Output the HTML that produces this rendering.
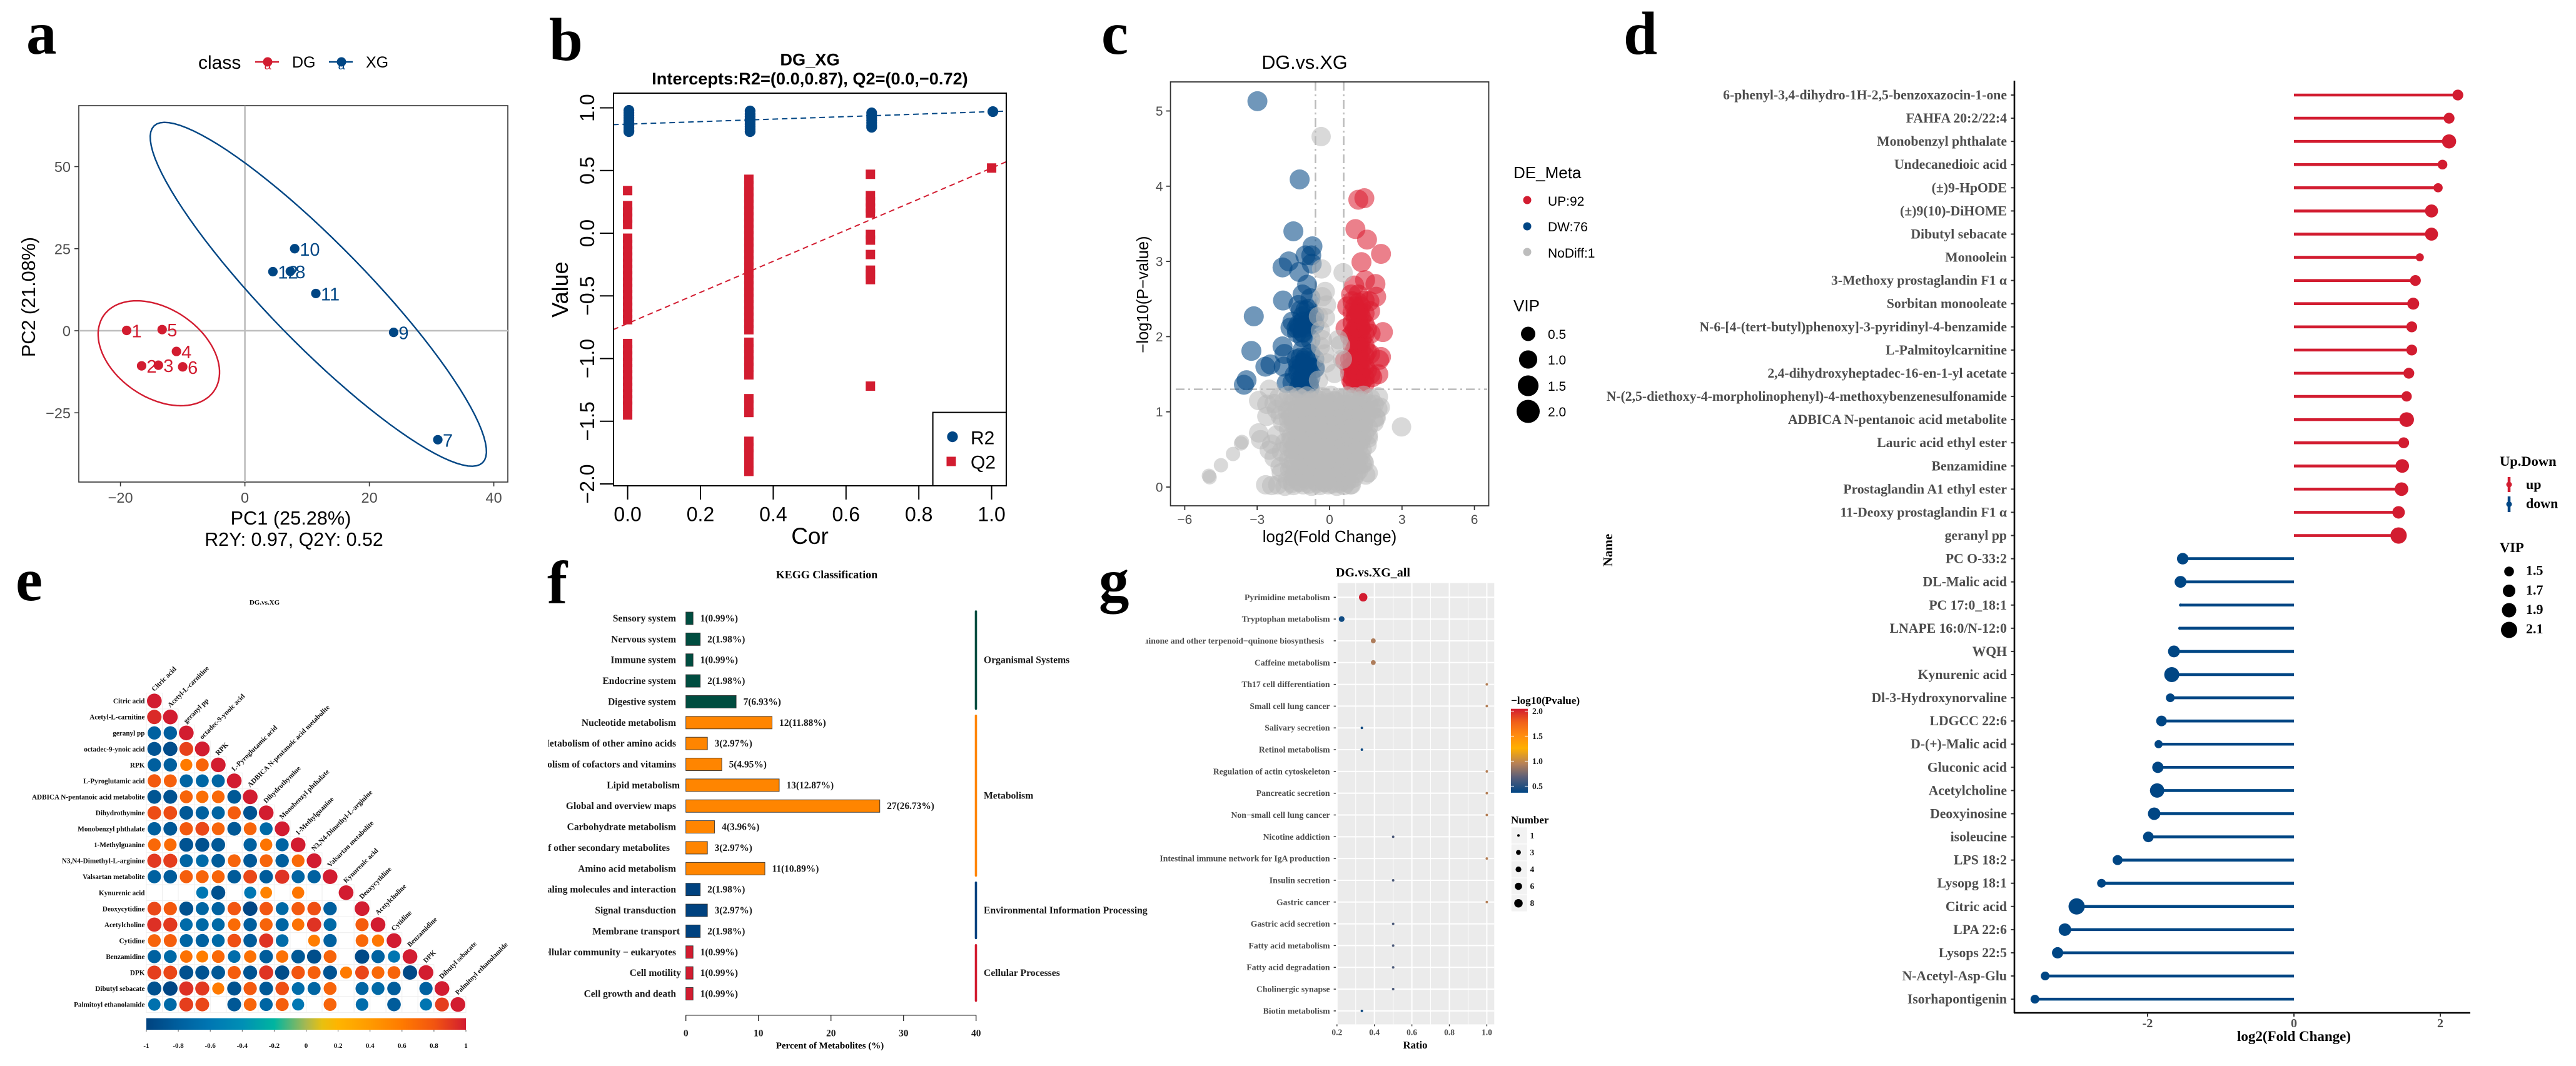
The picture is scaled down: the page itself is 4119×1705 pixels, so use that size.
<!DOCTYPE html>
<html lang="en">
<head>
<meta charset="utf-8">
<title>Metabolomics multi-panel figure</title>
<style>
html,body{margin:0;padding:0;background:#fff;}
svg{display:block;}
text{font-family:"Liberation Sans",sans-serif;}
.b,.b text{font-family:"Liberation Serif",serif;font-weight:bold;}
.letter{font-family:"Liberation Serif",serif;font-weight:bold;font-size:97px;fill:#000;}
</style>
</head>
<body>
<svg id="fig" xmlns="http://www.w3.org/2000/svg" width="4119" height="1705" viewBox="0 0 4119 1705">
<defs>
<clipPath id="clip-b"><rect x="981" y="149" width="628" height="628"/></clipPath>
<clipPath id="clip-f"><rect x="876" y="960" width="300" height="660"/></clipPath>
<clipPath id="clip-g"><rect x="1831.6" y="930" width="310" height="710"/></clipPath>
<linearGradient id="grad-e" x1="0" x2="1" y1="0" y2="0"></linearGradient>
<linearGradient id="grad-g" x1="0" x2="0" y1="1" y2="0"></linearGradient>
</defs>
<rect width="4119" height="1705" fill="#fff"/>

<!-- panel letters -->
<text class="letter" x="42" y="86">a</text>
<text class="letter" x="878" y="96">b</text>
<text class="letter" x="1761" y="86">c</text>
<text class="letter" x="2596" y="86">d</text>
<text class="letter" x="25" y="960">e</text>
<text class="letter" x="875" y="965">f</text>
<text class="letter" x="1757" y="961">g</text>

<!-- PANEL A -->
<g id="panel-a">
  <g>
    <text x="317" y="110" font-size="30">class</text>
    <g>
      <line x1="408" x2="446" y1="99" y2="99" stroke="#d21c30" stroke-width="2.5"/>
      <circle cx="428" cy="99" r="7.5" fill="#d21c30"/>
      <text x="428" y="111" font-size="20" text-anchor="middle" fill="#d21c30">a</text>
      <text x="467" y="108" font-size="25">DG</text>
    </g>
    <g>
      <line x1="526" x2="564" y1="99" y2="99" stroke="#004684" stroke-width="2.5"/>
      <circle cx="546" cy="99" r="7.5" fill="#004684"/>
      <text x="546" y="111" font-size="20" text-anchor="middle" fill="#004684">a</text>
      <text x="585" y="108" font-size="25">XG</text>
    </g>
  </g>
  <text x="465" y="839" font-size="30.7" text-anchor="middle">PC1 (25.28%)</text>
  <text x="470" y="873" font-size="30.4" text-anchor="middle">R2Y: 0.97, Q2Y: 0.52</text>
  <text x="56" y="475" font-size="30.6" text-anchor="middle" transform="rotate(-90 56 475)">PC2 (21.08%)</text>
</g>

<!-- PANEL B -->
<g id="panel-b">
  <text x="1295" y="104.5" font-size="27.2" font-weight="bold" text-anchor="middle">DG_XG</text>
  <text x="1295" y="135" font-size="27.2" font-weight="bold" text-anchor="middle">Intercepts:R2=(0.0,0.87), Q2=(0.0,−0.72)</text>
  <text x="1295" y="870" font-size="37" text-anchor="middle">Cor</text>
  <text x="908" y="463" font-size="36" text-anchor="middle" transform="rotate(-90 908 463)">Value</text>
</g>

<!-- PANEL C -->
<g id="panel-c">
  <text x="2086" y="110" font-size="30.5" text-anchor="middle">DG.vs.XG</text>
  <text x="2126" y="867" font-size="25.9" text-anchor="middle">log2(Fold Change)</text>
  <text x="1836" y="471" font-size="25.5" text-anchor="middle" transform="rotate(-90 1836 471)">−log10(P−value)</text>
  <g>
    <text x="2420" y="285" font-size="26">DE_Meta</text>
    <g><circle cx="2442" cy="320" r="6.5" fill="#d21c30"/><text x="2475" y="329" font-size="21">UP:92</text></g>
    <g><circle cx="2442" cy="362" r="6.5" fill="#004684"/><text x="2475" y="370" font-size="21">DW:76</text></g>
    <g><circle cx="2442" cy="403" r="6.5" fill="#bdbdbd"/><text x="2475" y="412" font-size="21">NoDiff:1</text></g>
  </g>
  <g>
    <text x="2420" y="498" font-size="26">VIP</text>
    <g><circle cx="2443.5" cy="534" r="11.5"/><text x="2475" y="542" font-size="21">0.5</text></g>
    <g><circle cx="2443.5" cy="575" r="14.6"/><text x="2475" y="583" font-size="21">1.0</text></g>
    <g><circle cx="2443.5" cy="617" r="16.6"/><text x="2475" y="625" font-size="21">1.5</text></g>
    <g><circle cx="2443.5" cy="658" r="18.5"/><text x="2475" y="666" font-size="21">2.0</text></g>
  </g>
</g>

<!-- PANEL D -->
<g id="panel-d" class="b">
  <text x="2578" y="880" font-size="21" text-anchor="middle" transform="rotate(-90 2578 880)">Name</text>
  <text x="3668" y="1665" font-size="23" text-anchor="middle">log2(Fold Change)</text>
  <g>
    <text x="3997" y="745" font-size="22.5">Up.Down</text>
    <g><line x1="4012" x2="4012" y1="763" y2="787" stroke="#d21c30" stroke-width="4.5"/><circle cx="4012" cy="775" r="4.5" fill="#d21c30"/><text x="4039" y="782" font-size="22">up</text></g>
    <g><line x1="4012" x2="4012" y1="794" y2="819" stroke="#004684" stroke-width="4.5"/><circle cx="4012" cy="806.5" r="4.5" fill="#004684"/><text x="4039" y="812.5" font-size="22">down</text></g>
  </g>
  <g>
    <text x="3997" y="883" font-size="22.5">VIP</text>
    <g><circle cx="4012" cy="914" r="7.8"/><text x="4039" y="919.5" font-size="22">1.5</text></g>
    <g><circle cx="4012" cy="945" r="10"/><text x="4039" y="951" font-size="22">1.7</text></g>
    <g><circle cx="4012" cy="976" r="11.5"/><text x="4039" y="982" font-size="22">1.9</text></g>
    <g><circle cx="4012" cy="1007.5" r="13"/><text x="4039" y="1013" font-size="22">2.1</text></g>
  </g>
</g>

<!-- PANEL E -->
<g id="panel-e" class="b">
  <text x="423" y="967" font-size="11" text-anchor="middle">DG.vs.XG</text>
  <rect x="234" y="1628.5" width="511" height="18.5" fill="url(#grad-e)"/>
</g>

<!-- PANEL F -->
<g id="panel-f" class="b">
  <text x="1322" y="925" font-size="18" text-anchor="middle">KEGG Classification</text>
  <text x="1327" y="1677" font-size="15" text-anchor="middle">Percent of Metabolites (%)</text>
</g>

<!-- PANEL G -->
<g id="panel-g" class="b">
  <text x="2136" y="922" font-size="20">DG.vs.XG_all</text>
  <rect x="2137.8" y="932.6" width="251.5" height="705.8" fill="#ebebeb"/>
  <text x="2263" y="1677" font-size="16.7" text-anchor="middle">Ratio</text>
  <text x="2416" y="1126" font-size="17.2">−log10(Pvalue)</text>
  <rect x="2416" y="1133.7" width="27" height="134.2" fill="url(#grad-g)"/>
  <text x="2416" y="1317" font-size="17">Number</text>
</g>

<script>
/* ---------- shared colours ---------- */
const RED = '#d21c30';
const BLUE = '#004684';
const NS = 'http://www.w3.org/2000/svg';

function mk(tag, parent, attrs) {
  const n = document.createElementNS(NS, tag);
  for (const k in attrs) n.setAttribute(k, attrs[k]);
  parent.appendChild(n);
  return n;
}
function label(parent, name, s, x, y, size, anchor, fill, rot) {
  const n = mk('text', parent, {x: x, y: y, 'font-size': size, 'text-anchor': anchor || 'start', fill: fill || '#000'});
  if (rot) n.setAttribute('transform', 'rotate(' + rot + ' ' + x + ' ' + y + ')');
  n.textContent = s;
  
  
  return n;
}
function stroke(parent, name, x1, y1, x2, y2, color, w, dash) {
  const n = mk('line', parent, {x1: x1, y1: y1, x2: x2, y2: y2, stroke: color, 'stroke-width': w});
  if (dash) n.setAttribute('stroke-dasharray', dash);
  
  
  return n;
}
function lerpColor(stopsV, stopsC, v) {
  if (v <= stopsV[0]) return stopsC[0];
  for (let i = 1; i < stopsV.length; i++) {
    if (v <= stopsV[i]) {
      const t = (v - stopsV[i - 1]) / (stopsV[i] - stopsV[i - 1]);
      const a = stopsC[i - 1], b = stopsC[i];
      const ch = o => Math.round(parseInt(a.substr(o, 2), 16) * (1 - t) + parseInt(b.substr(o, 2), 16) * t);
      return 'rgb(' + ch(1) + ',' + ch(3) + ',' + ch(5) + ')';
    }
  }
  return stopsC[stopsC.length - 1];
}
const minus = v => String(v).replace('-', '−');

/* ---------- PANEL A data ---------- */
const aXTicks = [-20, 0, 20, 40];
const aYTicks = [50, 25, 0, -25];
const dgLabels = ['1', '2', '3', '4', '5', '6'];
const dgPC1 = [-19, -16.6, -13.9, -11, -13.3, -10];
const dgPC2 = [0.1, -10.7, -10.5, -6.3, 0.35, -11];
const xgLabels = ['7', '8', '9', '10', '11', '12'];
const xgPC1 = [31, 7.3, 23.9, 8, 11.4, 4.5];
const xgPC2 = [-33.2, 18.1, -0.5, 25, 11.35, 18];
const ellipseDG = [-13.83, -6.86, 8.9, -11.4, 4.0, 11.2];
const ellipseXG = [11.8, 11.1, 26.4, -51.3, 5.75, 10.6];

/* ---------- PANEL B data ---------- */
const bXTicks = [0, 0.2, 0.4, 0.6, 0.8, 1];
const bYTicks = [1, 0.5, 0, -0.5, -1, -1.5, -2];
const corLevels = [0, 0.333, 0.667, 1];
const r2At0 = [0.98, 0.96, 0.94, 0.92, 0.9, 0.88, 0.86, 0.84, 0.82, 0.81];
const r2At33 = [0.975, 0.95, 0.93, 0.91, 0.89, 0.87, 0.85, 0.83, 0.81];
const r2At67 = [0.96, 0.94, 0.92, 0.9, 0.88, 0.86, 0.845];
const r2At100 = [0.97];
const q2At0 = [0.34, 0.22, 0.17, 0.12, 0.07, -0.04, -0.09, -0.14, -0.19, -0.24, -0.29, -0.34, -0.39, -0.44, -0.49, -0.54, -0.59, -0.64, -0.69, -0.88, -0.93, -0.98, -1.03, -1.08, -1.13, -1.18, -1.23, -1.28, -1.33, -1.38, -1.45];
const q2At33 = [0.43, 0.38, 0.33, 0.28, 0.23, 0.18, 0.13, 0.08, 0.03, -0.02, -0.07, -0.12, -0.17, -0.22, -0.27, -0.32, -0.37, -0.42, -0.47, -0.52, -0.57, -0.62, -0.67, -0.72, -0.77, -0.87, -0.92, -0.97, -1.02, -1.07, -1.13, -1.32, -1.37, -1.43, -1.66, -1.71, -1.76, -1.83, -1.9];
const q2At67 = [0.47, 0.3, 0.25, 0.2, 0.16, -0.01, -0.055, -0.17, -0.295, -0.33, -0.37, -1.22];
const q2At100 = [0.52];
const r2Intercept = 0.87;
const r2Slope = 0.1;
const q2Intercept = -0.72;
const q2Slope = 1.24;

/* ---------- PANEL C data ---------- */
const cXTicks = [-6, -3, 0, 3, 6];
const cYTicks = [5, 4, 3, 2, 1, 0];
const thresholdP = 1.3;
const thresholdFC = [-0.585, 0.585];
const downX = [-2.99, -1.24, -1.5, -0.71, -1, -0.76, -1.69, -0.74, -1.95, -1.26, -0.93, -1.93, -3.14, -3.24, -3.44, -3.55, -2.45, -2.66, -1.95, -1.87, -1.9, -1.78,
  -1.12, -0.79, -1.29, -0.88, -1.12, -0.63, -1.54, -1.29, -0.96, -1.62, -1.37, -1.12, -0.71, -0.63,
  -1.12, -0.79, -1.37, -1.04, -0.63, -1.29, -0.96, -0.63, -1.45, -1.12, -0.79, -0.6, -1.54, -1.21, -0.88, -1.29, -0.83, -1.12, -0.79,
  -1.2, -1, -1.1, -0.9, -1.25, -1.05, -1.35, -1.1, -1.2, -1, -1.15, -0.95, -1.3, -1.05, -1.2, -0.95, -1.1, -0.85, -1.3, -1, -1.15, -0.85];
const downY = [5.13, 4.09, 3.4, 3.2, 3.08, 3.08, 3, 2.97, 2.92, 2.86, 2.69, 2.48, 2.27, 1.81, 1.42, 1.36, 1.63, 1.6, 1.87, 1.77, 1.6, 1.38,
  2.56, 2.51, 2.42, 2.37, 2.27, 2.27, 2.2, 2.16, 2.16, 2.12, 2.11, 2.06, 2.23, 2.16,
  1.82, 1.77, 1.7, 1.68, 1.7, 1.58, 1.56, 1.58, 1.49, 1.46, 1.46, 1.58, 1.39, 1.37, 1.37, 1.31, 1.31, 1.99, 1.96,
  2.35, 2.35, 2.2, 2.2, 2.12, 2.12, 2.05, 2.05, 1.72, 1.72, 1.6, 1.6, 1.52, 1.52, 1.44, 1.44, 1.38, 1.38, 1.62, 1.5, 1.65, 1.6];
const upX = [1.44, 1.19, 1.07, 1.55, 2.13, 1.32, 1.47, 1.9, 1.02, 1.93, 0.89, 1.19, 0.73, 1.65, 2.21, 0.66, 2.13, 2.05, 0.64, 2.02, 0.83, 0.89, 1.77, 1.27,
  0.95, 1.2, 1.45, 0.95, 1.2, 1.45, 1.68, 0.95, 1.2, 1.45, 0.95, 1.2, 1.45, 1.7, 0.95, 1.2, 1.45, 0.95, 1.2, 1.45, 1.68, 0.95, 1.2, 1.45, 0.95, 1.2, 1.45, 1.7, 0.95, 1.2, 1.45,
  1.05, 1.3, 1.08, 1.32, 1.05, 1.3, 1.07, 1.33, 1.05, 1.3, 1.08, 1.32, 1.05, 1.3, 1.07, 1.33, 1.1, 1.25, 1.12, 1.28, 1.1, 1.25, 1.12, 1.28, 1.1, 1.25, 0.85, 0.85, 0.85, 1.55, 1.55, 1.55];
const upY = [3.84, 3.82, 3.43, 3.29, 3.1, 2.99, 2.75, 2.7, 2.68, 2.53, 2.56, 2.56, 2.4, 2.47, 2.06, 2.11, 1.73, 1.69, 1.68, 1.5, 1.58, 1.42, 1.46, 1.33,
  2.47, 2.45, 2.48, 2.32, 2.33, 2.31, 2.34, 2.18, 2.19, 2.17, 2.04, 2.05, 2.03, 2.04, 1.89, 1.9, 1.88, 1.75, 1.76, 1.74, 1.77, 1.61, 1.62, 1.6, 1.46, 1.47, 1.45, 1.5, 1.38, 1.36, 1.37,
  2.4, 2.4, 2.25, 2.25, 2.1, 2.1, 1.97, 1.97, 1.82, 1.82, 1.68, 1.68, 1.54, 1.54, 1.4, 1.4, 2.3, 2.3, 2.12, 2.12, 1.9, 1.9, 1.7, 1.7, 1.5, 1.5, 2, 1.7, 1.5, 2.1, 1.8, 1.55];
const grayX = [
  -2.1, -1.7, -1.3, -0.95, -0.6, -0.3, 0.05, 0.4, 0.75, 1.05, 1.4, 1.7,
  -2.3, -1.9, -1.5, -1.1, -0.75, -0.4, -0.05, 0.25, 0.6, 0.95, 1.25, 1.6, 1.85,
  -2.2, -1.75, -1.35, -1, -0.65, -0.3, 0.1, 0.45, 0.8, 1.15, 1.5, 1.75, 2,
  -2.05, -1.6, -1.2, -0.85, -0.5, -0.15, 0.2, 0.55, 0.9, 1.2, 1.55, 1.9,
  -1.95, -1.5, -1.1, -0.7, -0.35, 0, 0.35, 0.7, 1.05, 1.4, 1.85,
  -1.7, -1.3, -0.9, -0.55, -0.2, 0.15, 0.5, 0.85, 1.2, 1.6,
  -2.2, -1.6, -1.2, -0.8, -0.4, -0.05, 0.3, 0.65, 1, 1.35, 1.6,
  -2.4, -1.85, -1.45, -1.05, -0.65, -0.3, 0.05, 0.4, 0.75, 1.1, 1.55,
  -2.5, -2, -1.55, -1.15, -0.75, -0.35, 0, 0.35, 0.7, 1.05, 1.35,
  -2.3, -1.7, -1.3, -0.9, -0.5, -0.15, 0.2, 0.55, 0.9, 1.2,
  -2.05, -1.6, -1.2, -0.85, -0.45, -0.1, 0.25, 0.6, 0.95, 1.35,
  -2, -1.45, -1.05, -0.7, -0.35, 0, 0.35, 0.7, 1.1, 1.5,
  -1.75, -1.3, -0.9, -0.55, -0.2, 0.15, 0.5, 0.85,
  -2.65, -2.4, -2.15, -1.85, -1.5, -1.1, -0.75, -0.4, -0.05, 0.3, 0.6, 0.9,
  -5, -4.97, -4.5, -4, -3.67, -3.63, -2.94, -2.86, -2.94, -2.6, -2.6, -2.5, 2.98, -0.35, 0.56, -0.33,
  -0.18, -0.3, -0.13, -0.46, -0.17, -0.38, -0.3, -0.38, -0.2, -0.13, -0.46, 0.45, 0.36, 0.2, 0.53, 2.02, 2.1, 1.93, 1.6, 1.44, 1.6, 0.86,
  -1.55, -1.15, -0.8, -0.45, -0.15, 0.2, 0.55, 0.9, 1.3,
  -1.6, -1.2, -0.85, -0.5, -0.1, 0.25, 0.6, 1, 1.35,
  -1.7, -1.3, -0.9, -0.5, -0.15, 0.2, 0.55, 0.9, 1.25,
  -1.5, -1.1, -0.75, -0.4, -0.05, 0.3, 0.65, 1, 1.4,
  -1.4, -1, -0.6, -0.25, 0.1, 0.45, 0.8, 1.15, 1.45,
  -1.6, -1.25, -0.85, -0.5, -0.15, 0.2, 0.55, 0.9, 1.3,
  -1.7, -1.3, -0.9, -0.5, -0.15, 0.2, 0.55, 0.9, 1.2,
  -1.5, -1.1, -0.7, -0.35, 0, 0.35, 0.7, 1.05, 1.3,
  -1.5, -1.1, -0.7, -0.3, 0.05, 0.4, 0.75, 1.1, 1.4,
  -1.65, -1.3, -0.9, -0.55, -0.2, 0.15, 0.5, 0.85, 1.2,
  -1.5, -1.1, -0.75, -0.4, -0.05, 0.3, 0.65, 1,
  -1.55, -1.2, -0.85, -0.5, -0.2, 0.1, 0.4, 0.7];
const grayY = [
  1.19, 1.22, 1.2, 1.21, 1.18, 1.2, 1.22, 1.19, 1.21, 1.2, 1.22, 1.18,
  1.11, 1.13, 1.12, 1.1, 1.13, 1.11, 1.12, 1.14, 1.1, 1.12, 1.13, 1.11, 1.1,
  1.03, 1.01, 1.04, 1.02, 1.05, 1.03, 1.01, 1.04, 1.02, 1.05, 1.03, 1.02, 1.04,
  0.95, 0.93, 0.96, 0.94, 0.97, 0.95, 0.93, 0.96, 0.94, 0.97, 0.95, 0.93,
  0.86, 0.88, 0.85, 0.87, 0.84, 0.86, 0.88, 0.85, 0.87, 0.84, 0.86,
  0.77, 0.75, 0.78, 0.76, 0.79, 0.77, 0.75, 0.78, 0.76, 0.79,
  0.69, 0.67, 0.7, 0.68, 0.66, 0.69, 0.67, 0.7, 0.68, 0.66, 0.69,
  0.57, 0.59, 0.56, 0.6, 0.58, 0.56, 0.59, 0.57, 0.6, 0.58, 0.56,
  0.49, 0.47, 0.5, 0.48, 0.46, 0.49, 0.47, 0.5, 0.48, 0.46, 0.49,
  0.39, 0.37, 0.4, 0.38, 0.36, 0.39, 0.37, 0.4, 0.38, 0.36,
  0.27, 0.29, 0.26, 0.28, 0.3, 0.27, 0.29, 0.26, 0.28, 0.3,
  0.19, 0.17, 0.2, 0.18, 0.16, 0.19, 0.17, 0.2, 0.18, 0.16,
  0.09, 0.07, 0.1, 0.08, 0.06, 0.09, 0.07, 0.1,
  0.03, 0.02, 0.03, 0.01, 0.02, 0.03, 0.01, 0.02, 0.03, 0.01, 0.02, 0.03,
  0.15, 0.13, 0.29, 0.44, 0.58, 0.6, 0.72, 0.63, 1.15, 1.1, 0.94, 1.3, 0.8, 4.66, 2.85, 2.9,
  2.6, 2.53, 2.42, 2.27, 2.25, 2.08, 1.96, 1.87, 1.77, 1.65, 1.42, 1.89, 1.96, 1.51, 1.7, 1.2, 1.06, 0.92, 0.65, 0.32, 0.19, 0.03,
  1.16, 1.17, 1.15, 1.16, 1.17, 1.15, 1.17, 1.16, 1.15,
  1, 0.99, 1.01, 1, 0.99, 1.01, 1, 0.99, 1.01,
  0.9, 0.91, 0.89, 0.9, 0.91, 0.89, 0.9, 0.91, 0.89,
  0.82, 0.81, 0.83, 0.82, 0.81, 0.83, 0.82, 0.81, 0.83,
  0.72, 0.73, 0.71, 0.72, 0.73, 0.71, 0.72, 0.73, 0.71,
  0.62, 0.63, 0.61, 0.62, 0.63, 0.61, 0.62, 0.63, 0.61,
  0.53, 0.52, 0.54, 0.53, 0.52, 0.54, 0.53, 0.52, 0.54,
  0.43, 0.44, 0.42, 0.43, 0.44, 0.42, 0.43, 0.44, 0.42,
  0.33, 0.32, 0.34, 0.33, 0.32, 0.34, 0.33, 0.32, 0.34,
  0.23, 0.24, 0.22, 0.23, 0.24, 0.22, 0.23, 0.24, 0.22,
  0.13, 0.12, 0.14, 0.13, 0.12, 0.14, 0.13, 0.12,
  0.05, 0.06, 0.04, 0.05, 0.06, 0.04, 0.05, 0.06];

/* ---------- PANEL D data ---------- */
const dXTicks = [-2, 0, 2];
const metaboliteNames = ['6-phenyl-3,4-dihydro-1H-2,5-benzoxazocin-1-one', 'FAHFA 20:2/22:4', 'Monobenzyl phthalate', 'Undecanedioic acid', '(±)9-HpODE', '(±)9(10)-DiHOME', 'Dibutyl sebacate', 'Monoolein', '3-Methoxy prostaglandin F1 α', 'Sorbitan monooleate', 'N-6-[4-(tert-butyl)phenoxy]-3-pyridinyl-4-benzamide', 'L-Palmitoylcarnitine', '2,4-dihydroxyheptadec-16-en-1-yl acetate', 'N-(2,5-diethoxy-4-morpholinophenyl)-4-methoxybenzenesulfonamide', 'ADBICA N-pentanoic acid metabolite', 'Lauric acid ethyl ester', 'Benzamidine', 'Prostaglandin A1 ethyl ester', '11-Deoxy prostaglandin F1 α', 'geranyl pp', 'PC O-33:2', 'DL-Malic acid', 'PC 17:0_18:1', 'LNAPE 16:0/N-12:0', 'WQH', 'Kynurenic acid', 'Dl-3-Hydroxynorvaline', 'LDGCC 22:6', 'D-(+)-Malic acid', 'Gluconic acid', 'Acetylcholine', 'Deoxyinosine', 'isoleucine', 'LPS 18:2', 'Lysopg 18:1', 'Citric acid', 'LPA 22:6', 'Lysops 22:5', 'N-Acetyl-Asp-Glu', 'Isorhapontigenin'];
const foldChange = [2.24, 2.12, 2.12, 2.03, 1.97, 1.88, 1.88, 1.72, 1.66, 1.63, 1.61, 1.61, 1.57, 1.54, 1.54, 1.5, 1.48, 1.47, 1.43, 1.43, -1.52, -1.55, -1.55, -1.56, -1.64, -1.67, -1.69, -1.81, -1.85, -1.86, -1.87, -1.91, -1.99, -2.41, -2.63, -2.97, -3.13, -3.23, -3.4, -3.54];
const vipScores = [1.6, 1.6, 1.9, 1.5, 1.45, 1.8, 1.8, 1.35, 1.6, 1.7, 1.6, 1.6, 1.6, 1.55, 1.95, 1.6, 1.85, 1.85, 1.75, 2.1, 1.66, 1.69, 0.9, 0.9, 1.69, 1.98, 1.41, 1.58, 1.35, 1.64, 1.92, 1.75, 1.58, 1.52, 1.41, 2.09, 1.75, 1.64, 1.41, 1.41];

/* ---------- PANEL E data ---------- */
const corrNames = ['Citric acid', 'Acetyl-L-carnitine', 'geranyl pp', 'octadec-9-ynoic acid', 'RPK', 'L-Pyroglutamic acid', 'ADBICA N-pentanoic acid metabolite', 'Dihydrothymine', 'Monobenzyl phthalate', '1-Methylguanine', 'N3,N4-Dimethyl-L-arginine', 'Valsartan metabolite', 'Kynurenic acid', 'Deoxycytidine', 'Acetylcholine', 'Cytidine', 'Benzamidine', 'DPK', 'Dibutyl sebacate', 'Palmitoyl ethanolamide'];
const corrMatrix = [
  [1],
  [.95, 1],
  [-.78, -.8, 1],
  [-.88, -.93, .87, 1],
  [-.8, -.8, .6, .72, 1],
  [.78, .74, -.75, -.73, -.75, 1],
  [-.87, -.88, .72, .66, .7, -.85, 1],
  [.83, .83, -.85, -.78, -.76, .76, -.88, 1],
  [-.8, -.85, .78, .85, .72, -.85, .72, -.72, 1],
  [.7, .68, -.88, -.9, -.85, null, -.78, .63, -.75, 1],
  [.9, .88, -.75, -.7, -.83, .72, -.84, .72, -.8, .7, 1],
  [-.78, -.82, .75, .72, .72, -.83, .85, -.82, .92, -.75, -.78, 1],
  [null, null, null, -.6, -.9, null, -.6, .55, null, .62, null, null, 1],
  [.85, .78, -.9, -.75, -.78, .8, -.97, .8, -.72, .78, .82, -.8, null, 1],
  [.93, .9, -.7, -.72, -.72, .68, -.8, .72, -.75, .65, .92, -.72, null, .76, 1],
  [.72, .75, -.75, -.78, -.72, .82, -.82, .92, -.7, null, .58, -.78, null, .7, .62, 1],
  [-.78, -.72, .65, .58, .7, -.68, .65, -.82, .65, -.85, -.92, .72, null, -.95, -.78, -.62, 1],
  [.88, .85, -.9, -.88, -.85, .76, -.88, .92, -.93, .8, .74, -.88, .6, .85, .7, .72, -.95, 1],
  [-.9, -.97, .93, .9, .6, -.9, .78, -.85, .82, -.7, -.75, .72, null, -.75, -.72, -.82, null, -.78, 1],
  [-.65, -.72, .88, .85, null, -.85, .72, -.75, .75, -.6, null, .72, null, -.68, null, -.82, null, -.62, .88, 1]
];
const corrTicks = [-1, -0.8, -0.6, -0.4, -0.2, 0, 0.2, 0.4, 0.6, 0.8, 1];
const corrStopV = [-1, -.8, -.6, -.4, -.2, 0, .1, .2, .4, .6, .8, 1];
const corrStopC = ['#00427f', '#005f9e', '#0077b3', '#008fb5', '#00b5a0', '#a8b850', '#e8c010', '#ffb400', '#ff9a00', '#ff7a00', '#f25510', '#d21c30'];

/* ---------- PANEL F data ---------- */
const keggNames = ['Sensory system', 'Nervous system', 'Immune system', 'Endocrine system', 'Digestive system', 'Nucleotide metabolism', 'Metabolism of other amino acids', 'Metabolism of cofactors and vitamins', 'Lipid metabolism', 'Global and overview maps', 'Carbohydrate metabolism', 'Biosynthesis of other secondary metabolites', 'Amino acid metabolism', 'Signaling molecules and interaction', 'Signal transduction', 'Membrane transport', 'Cellular community − eukaryotes', 'Cell motility', 'Cell growth and death'];
const keggCounts = [1, 2, 1, 2, 7, 12, 3, 5, 13, 27, 4, 3, 11, 2, 3, 2, 1, 1, 1];
const keggPercents = [0.99, 1.98, 0.99, 1.98, 6.93, 11.88, 2.97, 4.95, 12.87, 26.73, 3.96, 2.97, 10.89, 1.98, 2.97, 1.98, 0.99, 0.99, 0.99];
const keggGroupOf = [0, 0, 0, 0, 0, 1, 1, 1, 1, 1, 1, 1, 1, 2, 2, 2, 3, 3, 3];
const keggGroupNames = ['Organismal Systems', 'Metabolism', 'Environmental Information Processing', 'Cellular Processes'];
const keggGroupColors = ['#004d40', '#ff8500', '#00427f', '#d21c30'];
const fXTicks = [0, 10, 20, 30, 40];

/* ---------- PANEL G data ---------- */
const pathwayNames = ['Pyrimidine metabolism', 'Tryptophan metabolism', 'Ubiquinone and other terpenoid−quinone biosynthesis', 'Caffeine metabolism', 'Th17 cell differentiation', 'Small cell lung cancer', 'Salivary secretion', 'Retinol metabolism', 'Regulation of actin cytoskeleton', 'Pancreatic secretion', 'Non−small cell lung cancer', 'Nicotine addiction', 'Intestinal immune network for IgA production', 'Insulin secretion', 'Gastric cancer', 'Gastric acid secretion', 'Fatty acid metabolism', 'Fatty acid degradation', 'Cholinergic synapse', 'Biotin metabolism'];
const pathwayRatio = [0.34, 0.225, 0.394, 0.394, 1, 1, 0.333, 0.333, 1, 1, 1, 0.5, 1, 0.5, 1, 0.5, 0.5, 0.5, 0.5, 0.333];
const pathwayNumber = [8, 4, 3, 3, 1, 1, 1, 1, 1, 1, 1, 1, 1, 1, 1, 1, 1, 1, 1, 1];
const pathwayLogP = [2.02, 0.45, 0.93, 0.93, 0.95, 0.95, 0.45, 0.45, 0.95, 0.95, 0.95, 0.65, 0.95, 0.65, 0.95, 0.65, 0.65, 0.65, 0.65, 0.45];
const gXTicks = [0.2, 0.4, 0.6, 0.8, 1];
const gMinorTicks = [0.3, 0.5, 0.7, 0.9];
const gLegendP = [2, 1.5, 1, 0.5];
const gLegendN = [1, 3, 4, 6, 8];
const gStopV = [0.4, 0.7, 0.95, 1.25, 1.5, 1.75, 2];
const gStopC = ['#004684', '#5c5f78', '#b58058', '#ffb000', '#ff8a10', '#f0601a', '#d21c30'];

/* ================= PANEL A ================= */
(function () {
  const g = document.getElementById('panel-a');
  const L = 126, R = 812, T = 169, B = 771;
  const sx = v => 391.6 + 9.95 * v;
  const sy = v => 529 - 5.25 * v;
  const frame = mk('rect', g, {x: L, y: T, width: R - L, height: B - T, fill: 'none', stroke: '#333', 'stroke-width': 1.6});
  
  
  stroke(g, 'zero-line-vertical', sx(0), T, sx(0), B, '#bdbdbd', 2.6);
  stroke(g, 'zero-line-horizontal', L, sy(0), R, sy(0), '#bdbdbd', 2.6);
  aXTicks.forEach(v => {
    stroke(g, 'x-tick-mark', sx(v), B, sx(v), B + 7, '#333', 1.6);
    label(g, 'x-tick-label', minus(v), sx(v), 804, 23.5, 'middle', '#4d4d4d');
  });
  aYTicks.forEach(v => {
    stroke(g, 'y-tick-mark', L - 7, sy(v), L, sy(v), '#333', 1.6);
    label(g, 'y-tick-label', minus(v), 113, sy(v) + 8.5, 23.5, 'end', '#4d4d4d');
  });
  function ellipse(e, color, name) {
    let d = '';
    for (let i = 0; i <= 96; i++) {
      const t = i / 96 * 2 * Math.PI;
      const x = e[0] + e[2] * Math.cos(t) + e[4] * Math.sin(t);
      const y = e[1] + e[3] * Math.cos(t) + e[5] * Math.sin(t);
      d += (i ? 'L' : 'M') + sx(x).toFixed(1) + ' ' + sy(y).toFixed(1);
    }
    const p = mk('path', g, {d: d + 'Z', fill: 'none', stroke: color, 'stroke-width': 2.4});
    
    
  }
  ellipse(ellipseDG, RED, 'confidence-ellipse-dg');
  ellipse(ellipseXG, BLUE, 'confidence-ellipse-xg');
  dgPC1.forEach((v, i) => {
    const c = mk('circle', g, {cx: sx(v), cy: sy(dgPC2[i]), r: 7.6, fill: RED});
    
    
    label(g, 'sample-label-dg', dgLabels[i], sx(v) + 8, sy(dgPC2[i]) + 11, 29, 'start', RED);
  });
  xgPC1.forEach((v, i) => {
    const c = mk('circle', g, {cx: sx(v), cy: sy(xgPC2[i]), r: 7.6, fill: BLUE});
    
    
    label(g, 'sample-label-xg', xgLabels[i], sx(v) + 8, sy(xgPC2[i]) + 11, 29, 'start', BLUE);
  });
})();

/* ================= PANEL B ================= */
(function () {
  const g = document.getElementById('panel-b');
  const L = 981, R = 1609, T = 149, B = 777;
  const sx = v => 1003.6 + 582 * v;
  const sy = v => 373 - 200.5 * v;
  const clip = mk('g', g, {'clip-path': 'url(#clip-b)'});
  
  
  [q2At0, q2At33, q2At67, q2At100].forEach((arr, k) => {
    arr.forEach(v => {
      const r = mk('rect', clip, {x: sx(corLevels[k]) - 7.5, y: sy(v) - 7.5, width: 15, height: 15, fill: RED});
      
      
    });
  });
  [r2At0, r2At33, r2At67, r2At100].forEach((arr, k) => {
    arr.forEach(v => {
      const c = mk('circle', clip, {cx: sx(corLevels[k]) + 2, cy: sy(v), r: 8.6, fill: BLUE});
      
      
    });
  });
  const xL = -0.04, xR = 1.05;
  stroke(clip, 'r2-trend-line', sx(xL), sy(r2Intercept + r2Slope * xL), sx(xR), sy(r2Intercept + r2Slope * xR), BLUE, 2, '9 6');
  stroke(clip, 'q2-trend-line', sx(xL), sy(q2Intercept + q2Slope * xL), sx(xR), sy(q2Intercept + q2Slope * xR), RED, 2, '9 6');
  const frame = mk('rect', g, {x: L, y: T, width: R - L, height: B - T, fill: 'none', stroke: '#000', 'stroke-width': 2});
  
  
  stroke(g, 'x-axis-line', sx(0), B, sx(1), B, '#000', 2);
  bXTicks.forEach(v => {
    stroke(g, 'x-tick-mark', sx(v), B, sx(v), 799, '#000', 2);
    label(g, 'x-tick-label', v.toFixed(1), sx(v), 833.5, 32, 'middle', '#000');
  });
  bYTicks.forEach(v => {
    stroke(g, 'y-tick-mark', 959, sy(v), L, sy(v), '#000', 2);
    label(g, 'y-tick-label', minus(v.toFixed(1)), 950, sy(v), 32, 'middle', '#000', -90);
  });
  const lg = mk('g', g, {});
  
  
  const box = mk('rect', lg, {x: 1491.6, y: 659.6, width: 117.4, height: 117.4, fill: '#fff', stroke: '#000', 'stroke-width': 2});
  
  
  const c = mk('circle', lg, {cx: 1523, cy: 698.6, r: 8.6, fill: BLUE});
  
  
  label(lg, 'legend-label-r2', 'R2', 1552, 710.7, 30);
  const s = mk('rect', lg, {x: 1513.5, y: 730.5, width: 15, height: 15, fill: RED});
  
  
  label(lg, 'legend-label-q2', 'Q2', 1552, 749.7, 30);
})();

/* ================= PANEL C ================= */
(function () {
  const g = document.getElementById('panel-c');
  const L = 1871.6, R = 2380.5, T = 131, B = 809;
  const sx = v => 2126 + 38.6 * v;
  const sy = v => 779 - 120.3 * v;
  stroke(g, 'p-threshold-line', 1880, sy(thresholdP), 2378, sy(thresholdP), '#bbb', 2.5, '14 6 3 6');
  thresholdFC.forEach(v => stroke(g, 'fold-change-threshold-line', sx(v), T, sx(v), B, '#bbb', 2.5, '14 6 3 6'));
  downX.forEach((v, i) => {
    const c = mk('circle', g, {cx: sx(v), cy: sy(downY[i]), r: 16, fill: BLUE, 'fill-opacity': 0.56});
    
    
  });
  upX.forEach((v, i) => {
    const c = mk('circle', g, {cx: sx(v), cy: sy(upY[i]), r: 16, fill: '#dc1c30', 'fill-opacity': 0.56});
    
    
  });
  grayX.forEach((v, i) => {
    const c = mk('circle', g, {cx: sx(v), cy: sy(grayY[i]), r: v < -3.3 ? 11.5 : 15.5, fill: '#b9b9b9', 'fill-opacity': 0.55});
    
    
  });
  const frame = mk('rect', g, {x: L, y: T, width: R - L, height: B - T, fill: 'none', stroke: '#333', 'stroke-width': 1.8});
  
  
  cXTicks.forEach(v => {
    stroke(g, 'x-tick-mark', sx(v), B, sx(v), B + 7, '#333', 1.8);
    label(g, 'x-tick-label', minus(v), sx(v), 838, 21, 'middle', '#4d4d4d');
  });
  cYTicks.forEach(v => {
    stroke(g, 'y-tick-mark', L - 7, sy(v), L, sy(v), '#333', 1.8);
    label(g, 'y-tick-label', String(v), 1859.5, sy(v) + 7.5, 21, 'end', '#4d4d4d');
  });
})();

/* ================= PANEL D ================= */
(function () {
  const g = document.getElementById('panel-d');
  const sx = v => 3668 + 117 * v;
  const sy = i => 152 + 37.08 * i;
  const rv = vip => 7.8 + (vip - 1.5) * 8.8;
  stroke(g, 'y-axis-line', 3221, 129, 3221, 1620, '#000', 2.6);
  stroke(g, 'x-axis-line', 3220, 1620, 3950, 1620, '#000', 2.6);
  metaboliteNames.forEach((n, i) => {
    stroke(g, 'y-tick-mark', 3215.5, sy(i), 3221, sy(i), '#333', 2);
    label(g, 'metabolite-label', n, 3209, sy(i) + 7, 21.7, 'end', '#4d4d4d');
  });
  foldChange.forEach((v, i) => {
    const color = v > 0 ? RED : BLUE;
    const st = mk('line', g, {x1: sx(0), x2: sx(v), y1: sy(i), y2: sy(i), stroke: color, 'stroke-width': v > -1.55 && vipScores[i] < 1 ? 3.5 : 4.6});
    
    
    const c = mk('circle', g, {cx: sx(v), cy: sy(i), r: rv(vipScores[i]), fill: color});
    
    
  });
  dXTicks.forEach(v => {
    stroke(g, 'x-tick-mark', sx(v), 1620, sx(v), 1626, '#333', 2);
    label(g, 'x-tick-label', String(v), sx(v), 1643, 20, 'middle', '#4d4d4d');
  });
})();

/* ================= PANEL E ================= */
(function () {
  const g = document.getElementById('panel-e');
  const x0 = 234, y0 = 1108.4, cw = 25.55;
  const grad = document.getElementById('grad-e');
  corrStopV.forEach((v, i) => mk('stop', grad, {offset: ((v + 1) / 2 * 100) + '%', 'stop-color': corrStopC[i]}));
  corrMatrix.forEach((row, r) => {
    row.forEach((v, c) => {
      const cell = mk('rect', g, {x: x0 + c * cw, y: y0 + r * cw, width: cw, height: cw, fill: '#fff', stroke: '#efefef', 'stroke-width': 1});
      
      
    });
  });
  corrMatrix.forEach((row, r) => {
    row.forEach((v, c) => {
      if (v === null) return;
      const dot = mk('circle', g, {cx: x0 + (c + .5) * cw, cy: y0 + (r + .5) * cw, r: 11.8 * (0.55 + 0.45 * Math.abs(v)), fill: lerpColor(corrStopV, corrStopC, v)});
      
      
    });
  });
  corrNames.forEach((n, i) => {
    label(g, 'row-label', n, 231.5, y0 + (i + .5) * cw + 4, 11.2, 'end', '#111');
    label(g, 'column-label', n, x0 + (i + .5) * cw, y0 + i * cw - 2, 11.2, 'start', '#111', -45);
  });
  corrTicks.forEach(v => {
    const x = 489.5 + 255.5 * v;
    stroke(g, 'colorbar-tick', x, 1647, x, 1650, '#555', 1);
    label(g, 'colorbar-tick-label', String(v), x, 1676, 11, 'middle', '#111');
  });
})();

/* ================= PANEL F ================= */
(function () {
  const g = document.getElementById('panel-f');
  const sx = v => 1096.7 + 11.6 * v;
  const sy = i => 989 + 33.36 * i;
  const names = mk('g', g, {'clip-path': 'url(#clip-f)'});
  
  
  keggNames.forEach((n, i) => {
    const labelNudge = i === 11 ? -10 : i === 17 ? 8 : (i === 8 || i === 15) ? 6 : 0;
    label(names, 'kegg-category-label', n, 1081 + labelNudge, sy(i) + 5, 15.5, 'end', '#1a1a1a');
    const bar = mk('rect', g, {x: sx(0), y: sy(i) - 10, width: keggPercents[i] * 11.6, height: 20, fill: keggGroupColors[keggGroupOf[i]], stroke: '#333', 'stroke-width': 0.9});
    
    
    label(g, 'kegg-value-label', keggCounts[i] + '(' + keggPercents[i].toFixed(2) + '%)', sx(keggPercents[i]) + 11.5, sy(i) + 5, 15.4, 'start', '#1a1a1a');
  });
  keggGroupNames.forEach((n, k) => {
    const idx = keggGroupOf.map((v, i) => v === k ? i : -1).filter(i => i >= 0);
    const top = sy(idx[0]) - 11, bot = sy(idx[idx.length - 1]) + 11;
    const b = mk('line', g, {x1: 1560.5, x2: 1560.5, y1: top, y2: bot, stroke: keggGroupColors[k], 'stroke-width': 3.6, 'stroke-linecap': 'round'});
    
    
    label(g, 'kegg-group-label', n, 1573, (top + bot) / 2 + 5, 15.7, 'start', '#1a1a1a');
  });
  stroke(g, 'x-axis-line', sx(0), 1623.7, sx(40), 1623.7, '#333', 1.4);
  fXTicks.forEach(v => {
    stroke(g, 'x-tick-mark', sx(v), 1623.7, sx(v), 1633, '#333', 1.4);
    label(g, 'x-tick-label', String(v), sx(v), 1657.5, 15.5, 'middle', '#1a1a1a');
  });
})();

/* ================= PANEL G ================= */
(function () {
  const g = document.getElementById('panel-g');
  const sx = v => 2137.8 + 299.5 * (v - 0.2);
  const sy = i => 955.3 + 34.82 * i;
  const rn = n => 2 + (Math.sqrt(n) - 1) * 2.6;
  const T = 932.6, B = 1638.4, L = 2137.8, R = 2389.3;
  const grad = document.getElementById('grad-g');
  gStopV.forEach((v, i) => mk('stop', grad, {offset: ((v - 0.4) / 1.6 * 100) + '%', 'stop-color': gStopC[i]}));
  gMinorTicks.forEach(v => stroke(g, 'minor-gridline', sx(v), T, sx(v), B, '#fff', 1));
  gXTicks.forEach(v => {
    stroke(g, 'major-gridline', sx(v), T, sx(v), B, '#fff', 2);
    stroke(g, 'x-tick-mark', sx(v), B, sx(v), B + 3, '#333', 1.4);
    label(g, 'x-tick-label', v.toFixed(1), sx(v), 1655.5, 13.5, 'middle', '#4d4d4d');
  });
  const names = mk('g', g, {'clip-path': 'url(#clip-g)'});
  
  
  pathwayNames.forEach((n, i) => {
    stroke(g, 'row-gridline', L, sy(i), R, sy(i), '#fff', 2);
    stroke(g, 'y-tick-mark', 2132.6, sy(i), 2136, sy(i), '#333', 1.4);
    label(names, 'pathway-label', n, i === 2 ? 2117 : 2126.5, sy(i) + 4.5, 13.7, 'end', '#4d4d4d');
  });
  pathwayRatio.forEach((v, i) => {
    const c = mk('circle', g, {cx: sx(v), cy: sy(i), r: rn(pathwayNumber[i]), fill: lerpColor(gStopV, gStopC, pathwayLogP[i])});
    
    
  });
  gLegendP.forEach(v => {
    const y = 1217.4 - 80 * (v - 1);
    stroke(g, 'colorbar-tick', 2416, y, 2421, y, '#fff', 1);
    stroke(g, 'colorbar-tick', 2438, y, 2443, y, '#fff', 1);
    label(g, 'colorbar-tick-label', v.toFixed(1), 2450, y + 4.5, 13.5, 'start', '#1a1a1a');
  });
  gLegendN.forEach((n, i) => {
    const y = 1336.3 + 27.1 * i;
    const bg = mk('rect', g, {x: 2416.8, y: y - 13, width: 25, height: 26, fill: '#f2f2f2'});
    
    
    const c = mk('circle', g, {cx: 2428, cy: y, r: rn(n), fill: '#000'});
    
    
    label(g, 'legend-label-number', String(n), 2446.5, y + 4.5, 13.5, 'start', '#1a1a1a');
  });
})();
</script>
</svg>
</body>
</html>
